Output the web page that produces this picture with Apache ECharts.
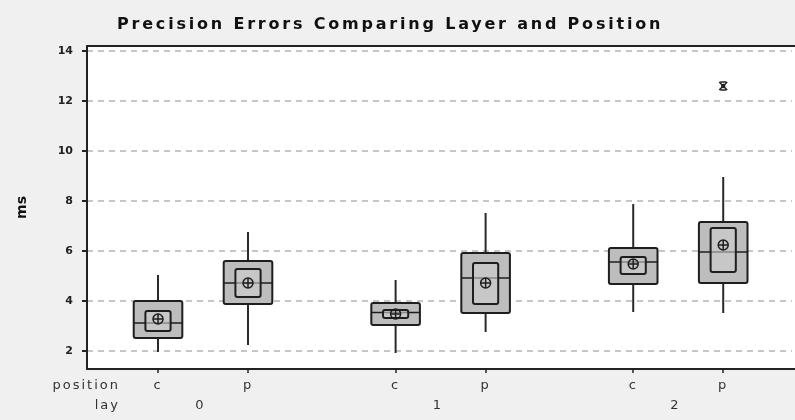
<!DOCTYPE html>
<html><head><meta charset="utf-8">
<script src="https://cdn.jsdelivr.net/npm/echarts@6/dist/echarts.min.js"></script>
<style>html,body{margin:0;padding:0;background:#f0f0f0;overflow:hidden}#c{width:795px;height:420px}</style>
</head><body><div id="c"></div>
<script>
const positions = ['c', 'p', 'c', 'p', 'c', 'p'];
const lays = ['0', '1', '2'];
const whiskerLow  = [1.96, 2.24, 1.92, 2.76, 3.56, 3.52];
const q1          = [2.52, 3.88, 3.04, 3.52, 4.68, 4.72];
const median      = [3.12, 4.72, 3.54, 4.92, 5.56, 5.96];
const q3          = [4.00, 5.60, 3.92, 5.92, 6.12, 7.16];
const whiskerHigh = [5.04, 6.76, 4.84, 7.52, 7.88, 8.96];
const innerLow    = [2.80, 4.16, 3.32, 3.88, 5.08, 5.16];
const innerHigh   = [3.60, 5.28, 3.64, 5.52, 5.76, 6.92];
const means       = [3.28, 4.72, 3.48, 4.72, 5.48, 6.24];
const outlierBox  = [5];
const outlierVal  = [12.6];
const yTicks = [2, 4, 6, 8, 10, 12, 14];

// spaced lettering like the original (title 16px bold, category text 13px regular)
(function () {
  const P = CanvasRenderingContext2D.prototype;
  const orig = P.fillText;
  P.fillText = function (t, x, y, m) {
    if ('letterSpacing' in this) {
      const f = this.font;
      let sp = null;
      if (f.indexOf('16px') >= 0) sp = '2.8px';
      else if (f.indexOf('13px') >= 0 && f.indexOf('bold') < 0) sp = '2px';
      if (sp) {
        this.letterSpacing = sp;
        this.font = f;
        const r = m === undefined ? orig.call(this, t, x, y) : orig.call(this, t, x, y, m);
        this.letterSpacing = '0px';
        this.font = '10px sans-serif';
        this.font = f;
        return r;
      }
    }
    return orig.apply(this, arguments);
  };
})();

// layout of the nested category axis (position within lay)
const groupStep = 2.64;
const xOf = i => Math.floor(i / 2) * groupStep + (i % 2);
const xs = positions.map((_, i) => xOf(i));
const layX = lays.map((_, g) => g * groupStep + 0.47);

const boxData = positions.map((_, i) => [xs[i], whiskerLow[i], q1[i], median[i], q3[i], whiskerHigh[i], innerLow[i], innerHigh[i], means[i]]);
const outData = outlierBox.map((b, k) => [xs[b], outlierVal[k]]);

const dark = '#1e1e1e';
function renderBox(params, api) {
  const x = api.value(0);
  const w = api.size([1, 0])[0];
  const hw = w * 0.27, ihw = w * 0.14;
  const cx = api.coord([x, 5])[0];
  const y = k => api.coord([x, api.value(k)])[1];
  const wl = y(1), b1 = y(2), md = y(3), b3 = y(4), wh = y(5), il = y(6), ih = y(7), mn = y(8);
  const r = 5;
  return {
    type: 'group',
    children: [
      { type: 'line', shape: { x1: cx, y1: wl, x2: cx, y2: wh }, style: { stroke: '#2a2a2a', lineWidth: 2 } },
      { type: 'rect', shape: { x: cx - hw, y: b3, width: hw * 2, height: b1 - b3, r: 2 }, style: { fill: '#bdbdbd', stroke: dark, lineWidth: 2 } },
      { type: 'line', shape: { x1: cx - hw, y1: md, x2: cx + hw, y2: md }, style: { stroke: dark, lineWidth: 1.5 } },
      { type: 'rect', shape: { x: cx - ihw, y: ih, width: ihw * 2, height: il - ih, r: 2 }, style: { fill: 'rgba(205,205,205,0.6)', stroke: dark, lineWidth: 2 } },
      { type: 'circle', shape: { cx: cx, cy: mn, r: r }, style: { fill: 'none', stroke: dark, lineWidth: 1.5 } },
      { type: 'line', shape: { x1: cx - r, y1: mn, x2: cx + r, y2: mn }, style: { stroke: dark, lineWidth: 1.5 } },
      { type: 'line', shape: { x1: cx, y1: mn - r, x2: cx, y2: mn + r }, style: { stroke: dark, lineWidth: 1.5 } }
    ]
  };
}
function renderOutlier(params, api) {
  const pt = api.coord([api.value(0), api.value(1)]);
  const s = 4;
  const st = { stroke: '#222', lineWidth: 1.5 };
  return {
    type: 'group',
    children: [
      { type: 'line', shape: { x1: pt[0] - s, y1: pt[1] - s, x2: pt[0] + s, y2: pt[1] + s }, style: st },
      { type: 'line', shape: { x1: pt[0] - s, y1: pt[1] + s, x2: pt[0] + s, y2: pt[1] - s }, style: st },
      { type: 'line', shape: { x1: pt[0] - s + 1, y1: pt[1] - s, x2: pt[0] + s - 1, y2: pt[1] - s }, style: st },
      { type: 'line', shape: { x1: pt[0] - s + 1, y1: pt[1] + s, x2: pt[0] + s - 1, y2: pt[1] + s }, style: st },
      { type: 'circle', shape: { cx: pt[0], cy: pt[1], r: 2.2 }, style: { fill: '#222' } }
    ]
  };
}

const xMin = -0.789, xMax = -0.789 + 720 / 90;
const chart = echarts.init(document.getElementById('c'), null, { renderer: 'canvas' });
chart.setOption({
  backgroundColor: '#f0f0f0',
  animation: false,
  title: {
    text: 'Precision Errors Comparing Layer and Position',
    left: 112, top: 12,
    textStyle: { fontFamily: 'DejaVu Sans', fontWeight: 'bold', fontSize: 16, color: '#111' }
  },
  grid: { left: 87, top: 46, width: 720, bottom: 51, outerBoundsMode: 'none',
    show: true, backgroundColor: '#ffffff', borderWidth: 0 },
  xAxis: [{
    type: 'value', min: xMin, max: xMax,
    axisLine: { show: true, onZero: false, lineStyle: { color: '#222', width: 2 } },
    axisTick: { show: true, customValues: xs, length: 4, lineStyle: { color: '#222', width: 1.5 } },
    axisLabel: { customValues: xs, margin: 10, fontFamily: 'DejaVu Sans', fontSize: 13, color: '#333',
      formatter: v => { const i = xs.findIndex(t => Math.abs(t - v) < 1e-6); return i >= 0 ? positions[i] : ''; } },
    splitLine: { show: false }
  }, {
    type: 'value', min: xMin, max: xMax, position: 'bottom', offset: 20,
    axisLine: { show: false, onZero: false }, axisTick: { show: false },
    axisLabel: { customValues: layX, margin: 10, fontFamily: 'DejaVu Sans', fontSize: 13, color: '#333',
      formatter: v => { const i = layX.findIndex(t => Math.abs(t - v) < 1e-6); return i >= 0 ? lays[i] : ''; } },
    splitLine: { show: false }
  }, {
    type: 'value', min: xMin, max: xMax, position: 'top',
    axisLine: { show: true, onZero: false, lineStyle: { color: '#222', width: 2 } },
    axisTick: { show: false }, axisLabel: { show: false }, splitLine: { show: false }
  }],
  yAxis: {
    type: 'value', min: 1.28, max: 14.2,
    name: 'ms', nameLocation: 'middle', nameGap: 58, nameRotate: 90,
    nameTextStyle: { fontFamily: 'DejaVu Sans', fontWeight: 'bold', fontSize: 14, color: '#111' },
    axisLine: { show: true, onZero: false, lineStyle: { color: '#222', width: 2 } },
    axisTick: { show: true, customValues: yTicks, inside: false, length: 5, lineStyle: { color: '#222', width: 2 } },
    axisLabel: { customValues: yTicks, margin: 14, fontFamily: 'DejaVu Sans', fontWeight: 'bold', fontSize: 11, color: '#222' },
    splitLine: { show: true, lineStyle: { color: '#b4b4b4', type: [6, 5], width: 1.5 } }
  },
  graphic: [
    { type: 'text', x: 120, y: 386, style: { text: 'position', textAlign: 'right', textVerticalAlign: 'middle', font: '13px "DejaVu Sans"', fill: '#333' } },
    { type: 'text', x: 120, y: 406, style: { text: 'lay', textAlign: 'right', textVerticalAlign: 'middle', font: '13px "DejaVu Sans"', fill: '#333' } },
    { type: 'rect', z: 100, silent: true, shape: { x: 792, y: 47.5, width: 10, height: 320.5 }, style: { fill: '#ffffff' } }
  ],
  series: [{
    type: 'custom', z: 3, renderItem: renderBox, data: boxData, encode: { x: 0, y: [1, 5] }
  }, {
    type: 'custom', z: 3, renderItem: renderOutlier, data: outData, encode: { x: 0, y: 1 }
  }]
});
</script></body></html>
